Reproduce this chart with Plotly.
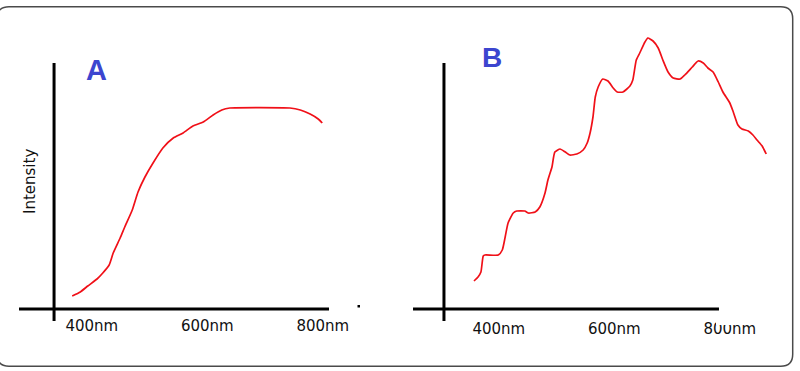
import plotly.graph_objects as go

# ---------------- data ----------------
wavelength_a = [366, 380, 393, 409, 419, 430, 437, 449, 457, 470, 480, 492, 506, 523,
                541, 558, 575, 593, 610, 625, 639, 743, 761, 778, 792, 799]
intensity_a = [5.2, 6.8, 9.2, 12.0, 14.4, 17.6, 22.4, 28.4, 32.8, 39.6, 46.8, 52.8, 58.4, 64.4,
               68.4, 70.4, 73.2, 74.8, 77.6, 79.6, 80.4, 80.4, 79.6, 78.0, 76.0, 74.4]

wavelength_b = [357, 364, 369, 373, 376, 399, 406, 411, 416, 425, 431, 445, 451, 463, 471,
                480, 485, 492, 497, 506, 515, 523, 535, 546, 553, 558, 563, 567, 572, 580,
                589, 598, 605, 615, 627, 632, 638, 644, 653, 658, 667, 676, 684, 693, 702,
                714, 722, 735, 745, 754, 762, 771, 780, 788, 800, 806, 814, 821, 832, 840,
                847, 856, 863]
intensity_b = [11.2, 12.8, 14.8, 21.2, 21.6, 21.6, 23.6, 28.8, 34.4, 38.4, 39.2, 39.2, 38.4,
               38.8, 40.8, 46.4, 51.6, 56.8, 62.8, 64.0, 62.8, 61.6, 62.0, 63.6, 66.4, 70.4,
               76.8, 84.8, 88.8, 92.0, 91.2, 88.4, 86.8, 86.8, 89.2, 91.6, 99.6, 102.4, 106.8,
               108.4, 107.2, 104.4, 99.6, 94.8, 92.4, 92.0, 93.6, 96.8, 99.2, 98.4, 96.4, 94.8,
               90.8, 86.8, 82.4, 78.8, 73.6, 72.0, 71.2, 69.6, 67.6, 65.2, 62.0]

tick_values = [400, 600, 800]
tick_labels = ["400nm", "600nm", "800nm"]
panel_labels = ["A", "B"]
y_title = "Intensity"

# ---------------- layout constants ----------------
W, H = 800, 371
X_RANGE = [245, 870]
Y_RANGE = [-4.8, 113.6]
PX_PER_NM = 0.5775
OFF_A, OFF_B = -139.17, 267.83          # pixel offset of each panel's nm scale
Y_DOM = [1 - 321 / H, 1 - 25 / H]

def xdom(off):
    return [(off + PX_PER_NM * X_RANGE[0]) / W, (off + PX_PER_NM * X_RANGE[1]) / W]

def px(x):
    return x / W

def py(y):
    return 1 - y / H

RED = "#f01018"
BLUE = "#3c45cf"
FONT = "DejaVu Sans"

fig = go.Figure()
fig.add_trace(go.Scatter(x=wavelength_a, y=intensity_a, mode="lines",
                         line=dict(color=RED, width=1.7, shape="spline", smoothing=0.5),
                         xaxis="x", yaxis="y", hoverinfo="skip"))
fig.add_trace(go.Scatter(x=wavelength_b, y=intensity_b, mode="lines",
                         line=dict(color=RED, width=1.7, shape="spline", smoothing=0.5),
                         xaxis="x2", yaxis="y2", hoverinfo="skip"))

common_x = dict(range=X_RANGE, showgrid=False, zeroline=False, showline=False,
                ticks="", tickmode="array", tickvals=tick_values, ticktext=tick_labels,
                tickfont=dict(family=FONT, size=15, color="#111"), fixedrange=True)
common_y = dict(range=Y_RANGE, domain=Y_DOM, showgrid=False, zeroline=False,
                showline=False, showticklabels=False, ticks="", fixedrange=True)

shapes = []
# hand drawn axes (crosshair style)
for xr, yr, x_h0, x_h1, x_v in [("x", "y", 273.9, 810.7, 334.6),
                                 ("x2", "y2", 251.4, 781.2, 305.0)]:
    shapes.append(dict(type="line", xref=xr, yref=yr, x0=x_h0, x1=x_h1, y0=0, y1=0,
                       line=dict(color="black", width=3)))
    shapes.append(dict(type="line", xref=xr, yref=yr, x0=x_v, x1=x_v, y0=Y_RANGE[0], y1=98.4,
                       line=dict(color="black", width=3)))

# rounded outer frame
L, T, R, B, r = -3, 6.7, 792.7, 366.2, 12
path = (f"M {px(L + r)},{py(T)} L {px(R - r)},{py(T)} Q {px(R)},{py(T)} {px(R)},{py(T + r)} "
        f"L {px(R)},{py(B - r)} Q {px(R)},{py(B)} {px(R - r)},{py(B)} "
        f"L {px(L + r)},{py(B)} Q {px(L)},{py(B)} {px(L)},{py(B - r)} "
        f"L {px(L)},{py(T + r)} Q {px(L)},{py(T)} {px(L + r)},{py(T)} Z")
shapes.append(dict(type="path", xref="paper", yref="paper", path=path,
                   line=dict(color="#4a4a4a", width=1.5)))
# stray dot next to panel A's axis
shapes.append(dict(type="rect", xref="paper", yref="paper", x0=px(357.5), x1=px(360),
                   y0=py(307.5), y1=py(305), fillcolor="black", line=dict(width=0)))
# the top of panel B's last tick label is cut off in the original
shapes.append(dict(type="rect", xref="paper", yref="paper", x0=px(716), x1=px(772),
                   y0=py(325), y1=py(312), fillcolor="white", line=dict(width=0),
                   layer="above"))

annotations = [
    dict(text=panel_labels[0], x=px(96.7), y=py(69.5), xref="paper", yref="paper",
         showarrow=False, font=dict(family="Liberation Sans", size=29, color=BLUE),
         xanchor="center", yanchor="middle"),
    dict(text=panel_labels[1], x=px(492), y=py(57.5), xref="paper", yref="paper",
         showarrow=False, font=dict(family="Liberation Sans", size=28, color=BLUE),
         xanchor="center", yanchor="middle"),
    dict(text=y_title, x=px(30), y=py(182), xref="paper", yref="paper", textangle=-90,
         showarrow=False, font=dict(family=FONT, size=15, color="#111"),
         xanchor="center", yanchor="middle"),
]
for a in annotations[:2]:
    a["text"] = "<b>" + a["text"] + "</b>"

fig.update_layout(
    width=W, height=H, margin=dict(l=0, r=0, t=0, b=0),
    paper_bgcolor="white", plot_bgcolor="rgba(0,0,0,0)", showlegend=False,
    xaxis=dict(domain=xdom(OFF_A), anchor="y", ticklabelstandoff=-6, **common_x),
    yaxis=dict(anchor="x", **common_y),
    xaxis2=dict(domain=xdom(OFF_B), anchor="y2", ticklabelstandoff=-3, **common_x),
    yaxis2=dict(anchor="x2", **common_y),
    shapes=shapes, annotations=annotations,
)

fig.write_html("out.html", config={"displayModeBar": False},
               post_script="document.body.style.margin='0';document.body.style.overflow='hidden';")
